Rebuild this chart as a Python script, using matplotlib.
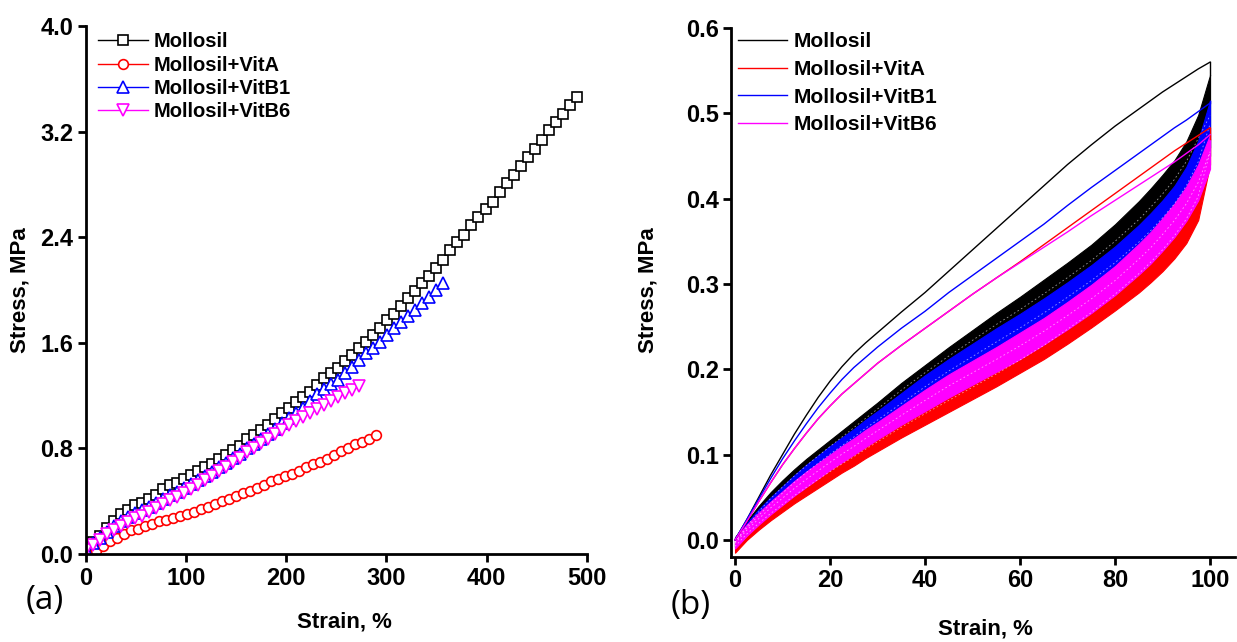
import matplotlib
matplotlib.use("Agg")
import matplotlib.pyplot as plt

plt.rcParams['font.family'] = ['Liberation Sans', 'DejaVu Sans']

# ---------------- Panel (a): tensile curves ----------------
labels = ["Mollosil", "Mollosil+VitA", "Mollosil+VitB1", "Mollosil+VitB6"]
colors = ["black", "red", "blue", "magenta"]

mol_strain = [0, 7, 14, 21, 28, 35, 42, 49, 56, 63, 70, 77, 84, 91, 98, 105, 112, 119, 126, 133,
              140, 147, 154, 161, 168, 175, 182, 189, 196, 203, 210, 217, 224, 231, 238, 245, 252,
              259, 266, 273, 280, 287, 294, 301, 308, 315, 322, 329, 336, 343, 350, 357, 364, 371,
              378, 385, 392, 399, 406, 413, 420, 427, 434, 441, 448, 455, 462, 469, 476, 483, 490]
mol_stress = [0.03, 0.09, 0.14, 0.20, 0.25, 0.30, 0.33, 0.37, 0.39, 0.42, 0.45, 0.49, 0.52, 0.54,
              0.57, 0.60, 0.63, 0.66, 0.68, 0.72, 0.75, 0.79, 0.82, 0.87, 0.90, 0.94, 0.98, 1.02,
              1.07, 1.11, 1.15, 1.19, 1.23, 1.28, 1.33, 1.37, 1.41, 1.46, 1.51, 1.56, 1.61, 1.66,
              1.71, 1.77, 1.82, 1.88, 1.94, 1.99, 2.05, 2.11, 2.17, 2.23, 2.30, 2.36, 2.42, 2.49,
              2.55, 2.61, 2.67, 2.74, 2.81, 2.87, 2.94, 3.01, 3.07, 3.14, 3.21, 3.27, 3.33, 3.40, 3.46]

vita_strain = [10, 17, 24, 31, 38, 45, 52, 59, 66, 73, 80, 87, 94, 101, 108, 115, 122, 129, 136, 143,
               150, 157, 164, 171, 178, 185, 192, 199, 206, 213, 220, 227, 234, 241, 248, 255, 262,
               269, 276, 283, 290]
vita_stress = [0.02, 0.06, 0.10, 0.12, 0.15, 0.18, 0.19, 0.21, 0.23, 0.25, 0.26, 0.27, 0.29, 0.30,
               0.32, 0.34, 0.36, 0.38, 0.40, 0.42, 0.44, 0.46, 0.48, 0.50, 0.52, 0.55, 0.57, 0.59,
               0.61, 0.63, 0.66, 0.68, 0.70, 0.72, 0.75, 0.78, 0.80, 0.83, 0.85, 0.87, 0.90]

vitb1_strain = [0, 7, 14, 21, 28, 35, 42, 49, 56, 63, 70, 77, 84, 91, 98, 105, 112, 119, 126, 133,
                140, 147, 154, 161, 168, 175, 182, 189, 196, 203, 210, 217, 224, 231, 238, 245, 252,
                259, 266, 273, 280, 287, 294, 301, 308, 315, 322, 329, 336, 343, 350, 357]
vitb1_stress = [0.03, 0.08, 0.12, 0.17, 0.21, 0.25, 0.28, 0.31, 0.33, 0.36, 0.39, 0.42, 0.45, 0.47,
                0.50, 0.53, 0.56, 0.59, 0.62, 0.66, 0.69, 0.73, 0.76, 0.80, 0.83, 0.87, 0.91, 0.95,
                0.99, 1.03, 1.07, 1.11, 1.16, 1.21, 1.25, 1.29, 1.32, 1.37, 1.42, 1.47, 1.52, 1.56,
                1.61, 1.66, 1.71, 1.76, 1.80, 1.85, 1.90, 1.95, 2.00, 2.05]

vitb6_strain = [0, 7, 14, 21, 28, 35, 42, 49, 56, 63, 70, 77, 84, 91, 98, 105, 112, 119, 126, 133,
                140, 147, 154, 161, 168, 175, 182, 189, 196, 203, 210, 217, 224, 231, 238, 245, 252,
                259, 266, 273]
vitb6_stress = [0.03, 0.07, 0.11, 0.15, 0.18, 0.21, 0.24, 0.27, 0.29, 0.32, 0.35, 0.38, 0.41, 0.43,
                0.46, 0.49, 0.52, 0.56, 0.59, 0.63, 0.66, 0.70, 0.73, 0.77, 0.80, 0.84, 0.87, 0.91,
                0.94, 0.98, 1.01, 1.04, 1.07, 1.10, 1.13, 1.16, 1.19, 1.22, 1.24, 1.27]

a_xticks = [0, 100, 200, 300, 400, 500]
a_yticks = [0.0, 0.8, 1.6, 2.4, 3.2, 4.0]

# ---------------- Panel (b): cyclic loading ----------------
cyc_strain = [0, 2.5, 5, 7.5, 10, 12.5, 15, 17.5, 20, 22.5, 25, 27.5, 30, 35, 40, 45, 50, 55, 60,
              65, 70, 75, 80, 85, 87.5, 90, 92.5, 95, 97.5, 100]

# first loading (upper thin curves)
mol_first = [0.0, 0.024, 0.05, 0.076, 0.10, 0.124, 0.146, 0.167, 0.186, 0.203, 0.218, 0.231, 0.243,
             0.267, 0.29, 0.315, 0.34, 0.365, 0.39, 0.415, 0.44, 0.463, 0.485, 0.505, 0.515, 0.525,
             0.534, 0.543, 0.552, 0.56]
vita_first = [0.0, 0.022, 0.045, 0.067, 0.088, 0.107, 0.125, 0.142, 0.157, 0.171, 0.183, 0.195,
              0.207, 0.228, 0.248, 0.268, 0.288, 0.307, 0.326, 0.346, 0.366, 0.386, 0.406, 0.426,
              0.436, 0.446, 0.456, 0.465, 0.474, 0.483]
vitb1_first = [0.0, 0.024, 0.048, 0.072, 0.095, 0.116, 0.136, 0.155, 0.172, 0.188, 0.202, 0.214,
               0.226, 0.248, 0.268, 0.29, 0.31, 0.33, 0.35, 0.37, 0.392, 0.413, 0.433, 0.453, 0.463,
               0.473, 0.483, 0.492, 0.502, 0.512]
vitb6_first = [0.0, 0.022, 0.045, 0.067, 0.088, 0.107, 0.125, 0.142, 0.157, 0.171, 0.183, 0.195,
               0.207, 0.228, 0.248, 0.268, 0.288, 0.307, 0.325, 0.343, 0.361, 0.38, 0.398, 0.416,
               0.425, 0.434, 0.443, 0.453, 0.463, 0.475]

# envelope (upper / lower) of the subsequent cycles
mol_band_hi = [0.003, 0.022, 0.04, 0.056, 0.07, 0.083, 0.095, 0.106, 0.117, 0.128, 0.139, 0.15,
               0.161, 0.184, 0.205, 0.226, 0.246, 0.266, 0.285, 0.305, 0.325, 0.346, 0.37, 0.397,
               0.412, 0.428, 0.445, 0.467, 0.498, 0.545]
mol_band_lo = [-0.008, 0.01, 0.026, 0.041, 0.054, 0.067, 0.079, 0.091, 0.102, 0.113, 0.124, 0.135,
               0.146, 0.167, 0.187, 0.205, 0.222, 0.239, 0.255, 0.272, 0.29, 0.309, 0.33, 0.354,
               0.368, 0.383, 0.40, 0.42, 0.443, 0.45]
vita_band_hi = [0.0, 0.014, 0.027, 0.039, 0.05, 0.061, 0.071, 0.081, 0.09, 0.099, 0.108, 0.117,
                0.126, 0.144, 0.161, 0.177, 0.193, 0.209, 0.226, 0.244, 0.264, 0.284, 0.307, 0.334,
                0.349, 0.365, 0.383, 0.404, 0.43, 0.47]
vita_band_lo = [-0.015, 0.0, 0.012, 0.023, 0.033, 0.043, 0.052, 0.061, 0.07, 0.079, 0.087, 0.096,
                0.104, 0.12, 0.135, 0.15, 0.165, 0.18, 0.196, 0.212, 0.23, 0.249, 0.269, 0.29,
                0.302, 0.315, 0.33, 0.348, 0.375, 0.44]
vitb1_band_hi = [0.003, 0.02, 0.036, 0.05, 0.063, 0.076, 0.088, 0.099, 0.11, 0.12, 0.13, 0.141,
                 0.151, 0.172, 0.193, 0.212, 0.23, 0.248, 0.265, 0.283, 0.302, 0.322, 0.344, 0.369,
                 0.383, 0.398, 0.415, 0.437, 0.468, 0.515]
vitb1_band_lo = [-0.008, 0.008, 0.022, 0.035, 0.047, 0.059, 0.07, 0.081, 0.091, 0.101, 0.111,
                 0.121, 0.13, 0.148, 0.166, 0.184, 0.20, 0.216, 0.232, 0.249, 0.267, 0.286, 0.306,
                 0.329, 0.342, 0.357, 0.373, 0.393, 0.418, 0.46]
vitb6_band_hi = [0.002, 0.018, 0.032, 0.045, 0.057, 0.069, 0.08, 0.09, 0.10, 0.11, 0.119, 0.129,
                 0.138, 0.157, 0.176, 0.194, 0.21, 0.226, 0.243, 0.26, 0.279, 0.299, 0.321, 0.347,
                 0.361, 0.377, 0.394, 0.414, 0.44, 0.475]
vitb6_band_lo = [-0.01, 0.005, 0.018, 0.03, 0.041, 0.052, 0.062, 0.072, 0.082, 0.091, 0.10, 0.109,
                 0.118, 0.135, 0.151, 0.167, 0.182, 0.197, 0.212, 0.229, 0.247, 0.266, 0.287, 0.311,
                 0.324, 0.339, 0.355, 0.374, 0.398, 0.435]

b_xticks = [0, 20, 40, 60, 80, 100]
b_yticks = [0.0, 0.1, 0.2, 0.3, 0.4, 0.5, 0.6]

# ---------------- Figure ----------------
fig = plt.figure(figsize=(12.37, 6.42), dpi=100)
axa = fig.add_axes([0.0693, 0.1370, 0.4050, 0.8225])
axb = fig.add_axes([0.5913, 0.1324, 0.4069, 0.8240])

TICK_FS = 17
LAB_FS = 16


def style(ax):
    for s in ['top', 'right']:
        ax.spines[s].set_visible(False)
    for s in ['left', 'bottom']:
        ax.spines[s].set_linewidth(2.0)
    ax.tick_params(direction='out', length=6, width=2.0, pad=3)
    for lab in ax.get_xticklabels() + ax.get_yticklabels():
        lab.set_fontsize(TICK_FS)
        lab.set_fontweight('bold')


# panel a
series_a = [(mol_strain, mol_stress, 's', 7.5), (vita_strain, vita_stress, 'o', 7.0),
            (vitb1_strain, vitb1_stress, '^', 8.0), (vitb6_strain, vitb6_stress, 'v', 8.0)]
for (x, y, m, ms), c, lab in zip(series_a, colors, labels):
    axa.plot(x, y, color=c, lw=1.0, marker=m, ms=ms,
             mfc='white', mec=c, mew=1.2, label=lab)
axa.set_xlim(0, 500)
axa.set_ylim(0, 4.0)
axa.set_xticks(a_xticks)
axa.set_yticks(a_yticks)
axa.set_yticklabels([f"{v:.1f}" for v in a_yticks])
style(axa)
axa.set_xlabel("Strain, %", fontsize=LAB_FS, fontweight='bold')
axa.set_ylabel("Stress, MPa", fontsize=LAB_FS, fontweight='bold')
axa.xaxis.set_label_coords(0.517, -0.108)
axa.yaxis.set_label_coords(-0.110, 0.50)
leg = axa.legend(loc='upper left', frameon=False, fontsize=14.5, handlelength=2.5,
                 handletextpad=0.25, labelspacing=0.22, borderaxespad=0.0, borderpad=0.2,
                 bbox_to_anchor=(0.016, 0.996))
for t in leg.get_texts():
    t.set_fontweight('bold')
fig.text(0.036, 0.065, "(a)", fontsize=24, family='Open Sans', ha='center', va='center')

# panel b
bands = [(mol_band_lo, mol_band_hi), (vita_band_lo, vita_band_hi),
         (vitb1_band_lo, vitb1_band_hi), (vitb6_band_lo, vitb6_band_hi)]
firsts = [mol_first, vita_first, vitb1_first, vitb6_first]
for (lo, hi), c in zip(bands, colors):
    axb.fill_between(cyc_strain, lo, hi, color=c, lw=0.8, ec=c)
    mid = [(a + b) / 2 for a, b in zip(lo, hi)]
    axb.plot(cyc_strain, mid, color='white', lw=0.6, alpha=0.6, ls=(0, (2, 3)))
for first, (lo, hi), c, lab in zip(firsts, bands, colors, labels):
    axb.plot(cyc_strain, first, color=c, lw=1.0, label=lab)
    axb.plot([cyc_strain[-1], cyc_strain[-1]], [hi[-1], first[-1]], color=c, lw=1.0)
axb.set_xlim(-0.75, 105.2)
axb.set_ylim(-0.02, 0.6)
axb.set_xticks(b_xticks)
axb.set_yticks(b_yticks)
axb.set_yticklabels([f"{v:.1f}" for v in b_yticks])
style(axb)
axb.set_xlabel("Strain, %", fontsize=LAB_FS, fontweight='bold')
axb.set_ylabel("Stress, MPa", fontsize=LAB_FS, fontweight='bold')
axb.xaxis.set_label_coords(0.504, -0.116)
axb.yaxis.set_label_coords(-0.144, 0.505)
legb = axb.legend(loc='upper left', frameon=False, fontsize=15, handlelength=2.35,
                  handletextpad=0.3, labelspacing=0.42, borderaxespad=0.0, borderpad=0.2,
                  bbox_to_anchor=(0.005, 1.0))
for t in legb.get_texts():
    t.set_fontweight('bold')
fig.text(0.558, 0.057, "(b)", fontsize=24, family='Open Sans', ha='center', va='center')

fig.savefig("out.png", dpi=100)
